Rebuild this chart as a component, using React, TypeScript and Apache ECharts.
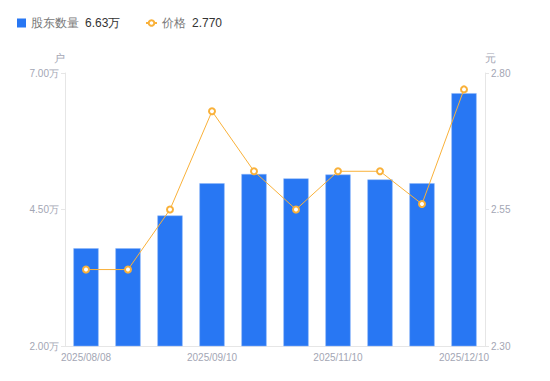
import React, { useEffect, useRef } from "react";
import * as echarts from "echarts";

const categories = [
  "2025/08/08", "2025/08/20", "2025/08/29", "2025/09/10", "2025/09/30",
  "2025/10/20", "2025/11/10", "2025/11/20", "2025/11/28", "2025/12/10",
];
const holders = [3.79, 3.79, 4.39, 4.98, 5.15, 5.07, 5.14, 5.05, 4.98, 6.63]; // 万户
const prices = [2.44, 2.44, 2.55, 2.73, 2.62, 2.55, 2.62, 2.62, 2.56, 2.77];
const leftTicks = { min: 2, max: 7, interval: 2.5 };
const rightTicks = { min: 2.3, max: 2.8, interval: 0.25 };
const legendValues: Record<string, string> = { "股东数量": "6.63万", "价格": "2.770" };

const BLUE = "#2877F3";
const ORANGE = "#F9B13A";
const GREY = "#A3A6B4";

const legendText = {
  fontSize: 12,
  rich: {
    n: { color: "#777", fontSize: 12 },
    v: { color: "#333", fontSize: 12, padding: [0, 0, 0, 6] },
  },
};
const legendFmt = (name: string) => `{n|${name}}{v|${legendValues[name]}}`;

export default function App() {
  const ref = useRef<HTMLDivElement>(null);
  useEffect(() => {
    document.body.style.margin = "0";
    const chart = echarts.init(ref.current!, null, { renderer: "svg" });
    chart.setOption({
      animation: false,
      legend: [
        {
          left: 17,
          top: 17,
          padding: 0,
          itemWidth: 9,
          itemHeight: 9,
          textStyle: legendText,
          formatter: legendFmt,
          data: [{ name: "股东数量", icon: "rect", itemStyle: { borderWidth: 0 } }],
        },
        {
          left: 145,
          top: 17,
          padding: 0,
          itemWidth: 11,
          itemHeight: 7,
          textStyle: legendText,
          formatter: legendFmt,
          data: [{ name: "价格" }],
        },
      ],
      grid: { left: 65, right: 65, top: 73, bottom: 35 },
      xAxis: {
        type: "category",
        data: categories,
        axisLine: { lineStyle: { color: "#E6E6E6" } },
        axisTick: { show: false },
        axisLabel: { color: GREY, fontSize: 10, interval: 2, margin: 6 },
      },
      yAxis: [
        {
          type: "value",
          name: "户",
          nameTextStyle: { color: GREY, fontSize: 11, padding: [0, 0, 0, -12] },
          nameGap: 10,
          ...leftTicks,
          axisLine: { show: true, lineStyle: { color: "#E6E6E6" } },
          axisTick: { show: true, length: 4, lineStyle: { color: "#E6E6E6" } },
          splitLine: { show: false },
          axisLabel: {
            color: GREY,
            fontSize: 10,
            margin: 6,
            formatter: (v: number) => v.toFixed(2) + "万",
          },
        },
        {
          type: "value",
          name: "元",
          nameTextStyle: { color: GREY, fontSize: 11, padding: [0, 0, 0, 10] },
          nameGap: 10,
          ...rightTicks,
          axisLine: { show: true, lineStyle: { color: "#E6E6E6" } },
          axisTick: { show: true, length: 4, lineStyle: { color: "#E6E6E6" } },
          splitLine: { show: false },
          axisLabel: {
            color: GREY,
            fontSize: 10,
            margin: 6,
            formatter: (v: number) => v.toFixed(2),
          },
        },
      ],
      series: [
        {
          name: "股东数量",
          type: "bar",
          data: holders,
          barWidth: "60%",
          itemStyle: { color: BLUE, borderColor: "#8DB6F8", borderWidth: 0.5 },
        },
        {
          name: "价格",
          type: "line",
          yAxisIndex: 1,
          data: prices,
          symbol: "emptyCircle",
          symbolSize: 6,
          lineStyle: { color: ORANGE, width: 1 },
          itemStyle: { color: ORANGE, borderWidth: 1.5 },
        },
      ],
    });
    return () => chart.dispose();
  }, []);
  return <div ref={ref} style={{ width: 550, height: 381 }} />;
}
